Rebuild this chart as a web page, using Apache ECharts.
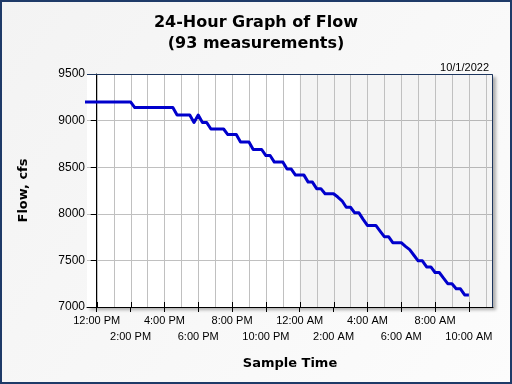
<!DOCTYPE html>
<html>
<head>
<meta charset="utf-8">
<script src="https://cdn.jsdelivr.net/npm/echarts@6/dist/echarts.min.js"></script>
<style>
  html, body { margin: 0; padding: 0; background: #ffffff; }
  #chart { width: 512px; height: 384px; }
</style>
</head>
<body>
<div id="chart"></div>
<script>
// ---- data ----
const titleText = '24-Hour Graph of Flow\n(93 measurements)';
const dateText = '10/1/2022';
const xAxisName = 'Sample Time';
const yAxisName = 'Flow, cfs';

// x axis in hours from 12:00 PM on 9/30/2022
const axisStartHour = -0.575;   // about 11:25 AM
const axisEndHour = 23.425;     // about 11:25 AM next day
const labelHoursRow1 = [0, 4, 8, 12, 16, 20];
const timeLabelsRow1 = ['12:00 PM', '4:00 PM', '8:00 PM', '12:00 AM', '4:00 AM', '8:00 AM'];
const labelHoursRow2 = [2, 6, 10, 14, 18, 22];
const timeLabelsRow2 = ['2:00 PM', '6:00 PM', '10:00 PM', '2:00 AM', '6:00 AM', '10:00 AM'];
const tickHours = [0, 2, 4, 6, 8, 10, 12, 14, 16, 18, 20, 22];
const gridHours = [0, 1, 2, 3, 4, 5, 6, 7, 8, 9, 10, 11, 12, 13, 14, 15, 16, 17, 18, 19, 20, 21, 22, 23];
const shadeFromHour = 12;       // 12:00 AM

// 93 measurements, every 15 minutes, first at 11:00 AM
const firstSampleHour = -1;
const sampleStepHours = 0.25;
const flow = [
  9200, 9200, 9200, 9200, 9200, 9200, 9200, 9200, 9200, 9200, 9200, 9200, 9200,
  9140, 9140, 9140, 9140, 9140, 9140, 9140, 9140, 9140, 9140,
  9060, 9060, 9060, 9060,
  8980, 9060, 8980, 8980,
  8910, 8910, 8910, 8910,
  8850, 8850, 8850,
  8770, 8770, 8770,
  8690, 8690, 8690,
  8625, 8625,
  8555, 8555, 8555,
  8480, 8480,
  8415, 8415, 8415,
  8340, 8340,
  8270, 8270,
  8215, 8215, 8215,
  8180,
  8140,
  8070, 8070,
  8010, 8010,
  7940,
  7875, 7875, 7875,
  7815,
  7755, 7755,
  7690, 7690, 7690,
  7650, 7615, 7555,
  7495, 7495,
  7430, 7430,
  7370, 7370,
  7310,
  7250, 7250,
  7195, 7195,
  7130, 7130
];
const yMin = 7000, yMax = 9500, yStep = 500;

// ---- chart ----
const seriesData = flow.map((v, i) => [firstSampleHour + i * sampleStepHours, v]);

const chart = echarts.init(document.getElementById('chart'), null, { renderer: 'canvas' });
chart.setOption({
  animation: false,
  backgroundColor: {
    type: 'linear', x: 0, y: 0, x2: 1, y2: 1,
    colorStops: [{ offset: 0, color: '#f3f3f3' }, { offset: 1, color: '#fcfcfc' }]
  },
  graphic: [{
    type: 'rect', silent: true, z: 100,
    shape: { x: 1, y: 1, width: 510, height: 382 },
    style: { fill: 'none', stroke: '#1e3a68', lineWidth: 2 }
  }],
  title: [{
    text: titleText, left: 'center', top: 12, padding: 0,
    textStyle: { fontFamily: 'DejaVu Sans', fontWeight: 'bold', fontSize: 16, lineHeight: 21, color: '#000' }
  }, {
    text: dateText, right: 23, top: 62, padding: 0,
    textStyle: { fontFamily: 'Liberation Sans', fontWeight: 'normal', fontSize: 11, color: '#000' }
  }],
  grid: {
    left: 87, top: 74, width: 406, height: 233,
    show: true, backgroundColor: '#ffffff', borderWidth: 0,
    shadowColor: 'rgba(0,0,0,0.3)', shadowBlur: 3, shadowOffsetX: 3, shadowOffsetY: 3
  },
  xAxis: {
    type: 'value', min: axisStartHour, max: axisEndHour, position: 'bottom',
    name: xAxisName, nameLocation: 'middle', nameGap: 50,
    nameTextStyle: { fontFamily: 'DejaVu Sans', fontWeight: 'bold', fontSize: 13, color: '#000' },
    axisLine: { show: true, lineStyle: { color: '#000', width: 1 } },
    axisTick: { show: true, inside: false, length: 5, customValues: tickHours, lineStyle: { color: '#000' } },
    axisLabel: {
      customValues: tickHours,
      formatter: (v) => {
        const a = labelHoursRow1.indexOf(Math.round(v));
        if (a >= 0) return '{r1|' + timeLabelsRow1[a] + '}';
        const b = labelHoursRow2.indexOf(Math.round(v));
        return b >= 0 ? '{r2|' + timeLabelsRow2[b] + '}' : '';
      },
      margin: 8, showMinLabel: true, showMaxLabel: true, hideOverlap: false,
      fontFamily: 'Liberation Sans', fontSize: 11, color: '#000',
      rich: {
        r1: { fontFamily: 'Liberation Sans', fontSize: 11, color: '#000', padding: [0, 0, 0, 0] },
        r2: { fontFamily: 'Liberation Sans', fontSize: 11, color: '#000', padding: [16, 0, 0, 0] }
      }
    },
    splitLine: { show: false }
  },
  yAxis: {
    type: 'value', min: yMin, max: yMax, interval: yStep,
    name: yAxisName, nameLocation: 'middle', nameGap: 57,
    nameTextStyle: { fontFamily: 'DejaVu Sans', fontWeight: 'bold', fontSize: 13, color: '#000' },
    axisLine: { show: true, lineStyle: { color: '#000', width: 1 } },
    axisTick: { show: true, length: 6, lineStyle: { color: '#000' } },
    axisLabel: { fontFamily: 'Liberation Sans', fontSize: 12, color: '#000', margin: 2, formatter: (v) => String(v) },
    splitLine: { show: true, lineStyle: { color: '#c0c0c0', width: 1 } }
  },
  series: [{
    // shaded night region (12:00 AM to the right edge)
    type: 'custom', silent: true, z: 1,
    data: [[shadeFromHour, axisEndHour]],
    renderItem: (params, api) => {
      const p0 = api.coord([api.value(0), yMax]);
      const p1 = api.coord([api.value(1), yMin]);
      return {
        type: 'rect',
        shape: { x: p0[0], y: p0[1], width: p1[0] - p0[0], height: p1[1] - p0[1] },
        style: { fill: 'rgba(0,0,0,0.045)' }
      };
    }
  }, {
    // hourly vertical grid lines
    type: 'custom', silent: true, z: 2,
    data: gridHours.map(h => [h]),
    renderItem: (params, api) => {
      const a = api.coord([api.value(0), yMin]);
      const b = api.coord([api.value(0), yMax]);
      const x = Math.round(a[0]) + 0.5;
      return {
        type: 'line',
        shape: { x1: x, y1: a[1], x2: x, y2: b[1] },
        style: { stroke: '#c0c0c0', lineWidth: 1 }
      };
    }
  }, {
    // inner half of the crossing x-axis ticks
    type: 'custom', silent: true, z: 4,
    data: tickHours.map(h => [h]),
    renderItem: (params, api) => {
      const a = api.coord([api.value(0), yMin]);
      const x = Math.round(a[0]) + 0.5;
      return {
        type: 'line',
        shape: { x1: x, y1: a[1], x2: x, y2: a[1] - 5 },
        style: { stroke: '#000', lineWidth: 1 }
      };
    }
  }, {
    // top and right plot border
    type: 'custom', silent: true, z: 4,
    data: [[axisStartHour, axisEndHour]],
    renderItem: (params, api) => {
      const tl = api.coord([api.value(0), yMax]);
      const br = api.coord([api.value(1), yMin]);
      return {
        type: 'polyline',
        shape: { points: [[tl[0], tl[1] + 0.5], [br[0] - 0.5, tl[1] + 0.5], [br[0] - 0.5, br[1]]] },
        style: { stroke: '#1c355e', lineWidth: 1, fill: 'none' }
      };
    }
  }, {
    type: 'line', data: seriesData, z: 3,
    showSymbol: false, symbol: 'none',
    lineStyle: { color: '#0000cc', width: 3, join: 'round' },
    itemStyle: { color: '#0000cc' }
  }]
});
</script>
</body>
</html>
